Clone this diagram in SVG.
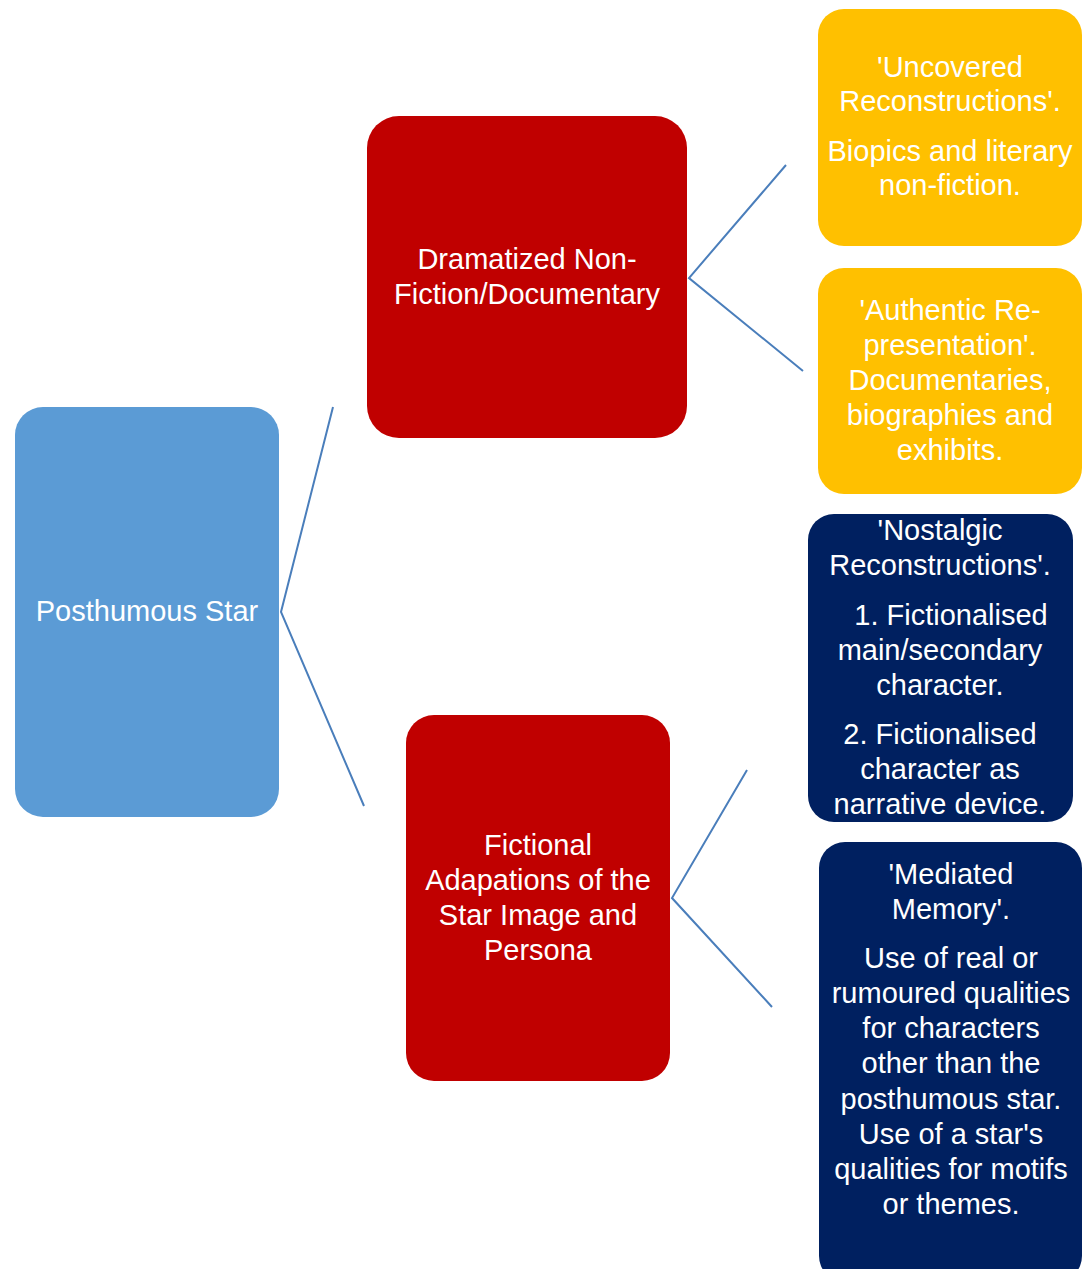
<svg xmlns="http://www.w3.org/2000/svg" width="1082" height="1269" viewBox="0 0 1082 1269">
  <style>
    .lbl { font-family: "Liberation Sans", Arial, sans-serif; font-size: 29px; fill: #ffffff; text-anchor: middle; }
    .root { fill: #5B9BD5; }
    .cat { fill: #C00000; }
    .doc { fill: #FFC000; }
    .fic { fill: #002060; }
    .link { stroke: #4A7EBB; stroke-width: 2; fill: none; }
  </style>

  <!-- connectors -->
  <g id="connectors">
    <polyline class="link" points="333,407 281,612 364,806"/>
    <polyline class="link" points="786,165 689,278 803,371"/>
    <polyline class="link" points="747,770 672,898 772,1007"/>
  </g>

  <!-- root -->
  <g id="posthumous-star">
    <rect class="root" x="15" y="407" width="264" height="410" rx="28"/>
    <text class="lbl" x="147" y="621">Posthumous Star</text>
  </g>

  <!-- second level -->
  <g id="dramatized">
    <rect class="cat" x="367" y="116" width="320" height="322" rx="32"/>
    <text class="lbl" x="527" y="269">Dramatized Non-</text>
    <text class="lbl" x="527" y="304">Fiction/Documentary</text>
  </g>

  <g id="fictional">
    <rect class="cat" x="406" y="715" width="264" height="366" rx="28"/>
    <text class="lbl" x="538" y="855">Fictional</text>
    <text class="lbl" x="538" y="890">Adapations of the</text>
    <text class="lbl" x="538" y="925">Star Image and</text>
    <text class="lbl" x="538" y="960">Persona</text>
  </g>

  <!-- third level: non-fiction -->
  <g id="uncovered">
    <rect class="doc" x="818" y="9" width="264" height="237" rx="26"/>
    <text class="lbl" x="950" y="77">'Uncovered</text>
    <text class="lbl" x="950" y="111">Reconstructions'.</text>
    <text class="lbl" x="950" y="161">Biopics and literary</text>
    <text class="lbl" x="950" y="195">non-fiction.</text>
  </g>

  <g id="authentic">
    <rect class="doc" x="818" y="268" width="264" height="226" rx="26"/>
    <text class="lbl" x="950" y="320">'Authentic Re-</text>
    <text class="lbl" x="950" y="355">presentation'.</text>
    <text class="lbl" x="950" y="390">Documentaries,</text>
    <text class="lbl" x="950" y="425">biographies and</text>
    <text class="lbl" x="950" y="460">exhibits.</text>
  </g>

  <!-- third level: fiction -->
  <g id="nostalgic">
    <rect class="fic" x="808" y="514" width="265" height="308" rx="26"/>
    <text class="lbl" x="940" y="540">'Nostalgic</text>
    <text class="lbl" x="940" y="575">Reconstructions'.</text>
    <text class="lbl" x="951" y="625">1. Fictionalised</text>
    <text class="lbl" x="940" y="660">main/secondary</text>
    <text class="lbl" x="940" y="695">character.</text>
    <text class="lbl" x="940" y="744">2. Fictionalised</text>
    <text class="lbl" x="940" y="779">character as</text>
    <text class="lbl" x="940" y="814">narrative device.</text>
  </g>

  <g id="mediated">
    <rect class="fic" x="819" y="842" width="263" height="440" rx="26"/>
    <text class="lbl" x="951" y="884">'Mediated</text>
    <text class="lbl" x="951" y="919">Memory'.</text>
    <text class="lbl" x="951" y="968">Use of real or</text>
    <text class="lbl" x="951" y="1003">rumoured qualities</text>
    <text class="lbl" x="951" y="1038">for characters</text>
    <text class="lbl" x="951" y="1073">other than the</text>
    <text class="lbl" x="951" y="1109">posthumous star.</text>
    <text class="lbl" x="951" y="1144">Use of a star's</text>
    <text class="lbl" x="951" y="1179">qualities for motifs</text>
    <text class="lbl" x="951" y="1214">or themes.</text>
  </g>
</svg>
